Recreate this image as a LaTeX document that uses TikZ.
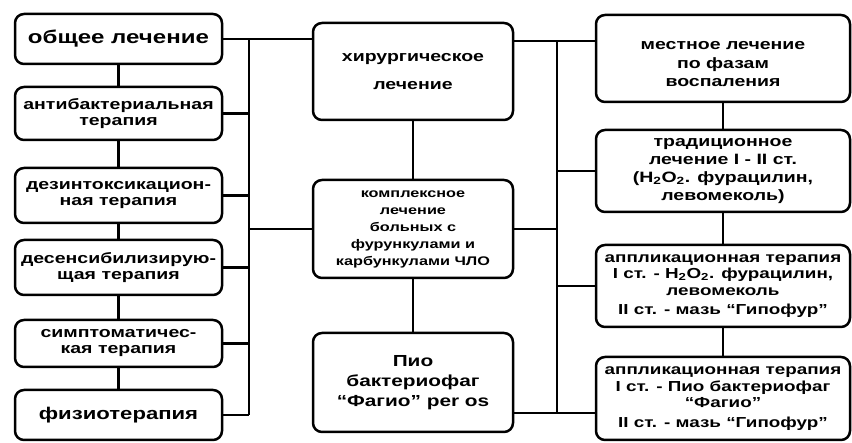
\documentclass[tikz,border=0pt]{standalone}
\usepackage{fontspec}
\setmainfont[FakeStretch=1.3]{Liberation Sans}

\begin{document}
\begin{tikzpicture}[x=1pt,y=-1pt,
		box/.style={draw, line width=2.5pt, rounded corners=9pt, align=center, inner sep=1pt},
		lbox/.style={box, minimum width=207pt, font=\bfseries\fontsize{15}{16}\selectfont},
		cbox/.style={box, minimum width=200pt, minimum height=98pt},
		rbox/.style={box, minimum width=254pt, minimum height=82pt},
		link/.style={line width=2.6pt}]
		\useasboundingbox (0,0) rectangle (852,443);
		% left column
		\node[lbox, minimum height=50pt, font=\bfseries\fontsize{18.5}{20}\selectfont] (gen) at (118.5,39) {общее лечение};
		\node[lbox, minimum height=53pt] (ab) at (118.5,113.5) {антибактериальная\\терапия};
		\node[lbox, minimum height=55pt] (dez) at (118.5,195.5) {дезинтоксикацион-\\ная терапия};
		\node[lbox, minimum height=55pt] (des) at (118.5,267.5) {десенсибилизирую-\\щая терапия};
		\node[lbox, minimum height=47pt] (sym) at (118.5,343.5) {симптоматичес-\\кая терапия};
		\node[lbox, minimum height=50pt, font=\bfseries\fontsize{17}{19}\selectfont] (fiz) at (118.5,415) {физиотерапия};
		% center column
		\node[cbox, minimum height=97pt, font=\bfseries\fontsize{15}{17}\selectfont] (sur) at (413,71.5) {хирургическое\\[11pt]лечение};
		\node[cbox, font=\bfseries\fontsize{12.5}{17}\selectfont] (com) at (413,229) {комплексное\\лечение\\больных с\\фурункулами и\\карбункулами ЧЛО};
		\node[cbox, minimum height=99pt, font=\bfseries\fontsize{16}{20}\selectfont] (pio) at (413,382.5) {Пио\\бактериофаг\\``Фагио'' per os};
		% right column
		\node[rbox, minimum height=87pt, font=\bfseries\fontsize{15}{18.5}\selectfont] (loc) at (723,58.5) {\rule{0pt}{20pt}местное лечение\\по фазам\\воспаления};
		\node[rbox, font=\bfseries\fontsize{15}{18}\selectfont] (trad) at (723,171) {традиционное\\лечение I - II ст.\\(H\textsubscript{2}O\textsubscript{2}. фурацилин,\\левомеколь)};
		\node[rbox, font=\bfseries\fontsize{14.5}{16.5}\selectfont] (app1) at (723,286) {аппликационная терапия\\I ст. - H\textsubscript{2}O\textsubscript{2}. фурацилин,\\левомеколь\\[3pt]II ст. - мазь ``Гипофур''};
		\node[rbox, minimum height=83pt, font=\bfseries\fontsize{14.5}{16.5}\selectfont] (app2) at (723,398.5) {аппликационная терапия\\I ст. - Пио бактериофаг\\``Фагио''\\[3pt]II ст. - мазь ``Гипофур''};
		% buses
		\coordinate (lbt) at (249,39);
		\coordinate (lbb) at (249,415);
		\coordinate (rbt) at (557,41);
		\coordinate (rbb) at (557,413);
		\draw[link] (lbt) -- (lbb);
		\draw[link] (rbt) -- (rbb);
		\draw[link] (gen.east) -- (sur.west |- gen.east);
		\foreach \n in {ab,dez,des,sym,fiz}
			\draw[link] (\n.east) -- (\n.east -| lbt);
		\draw[link] (com.west) -- (com.west -| lbt);
		\draw[link] (sur.east |- rbt) -- (loc.west |- rbt);
		\draw[link] (com.east) -- (com.east -| rbt);
		\foreach \n in {trad,app1}
			\draw[link] (\n.west) -- (\n.west -| rbt);
		\draw[link] (pio.east |- rbb) -- (app2.west |- rbb);
		% vertical links
		\foreach \a/\b in {gen/ab,ab/dez,dez/des,des/sym,sym/fiz,sur/com,com/pio,loc/trad,trad/app1,app1/app2}
			\draw[link] (\a.south) -- (\b.north);
\end{tikzpicture}
\end{document}
